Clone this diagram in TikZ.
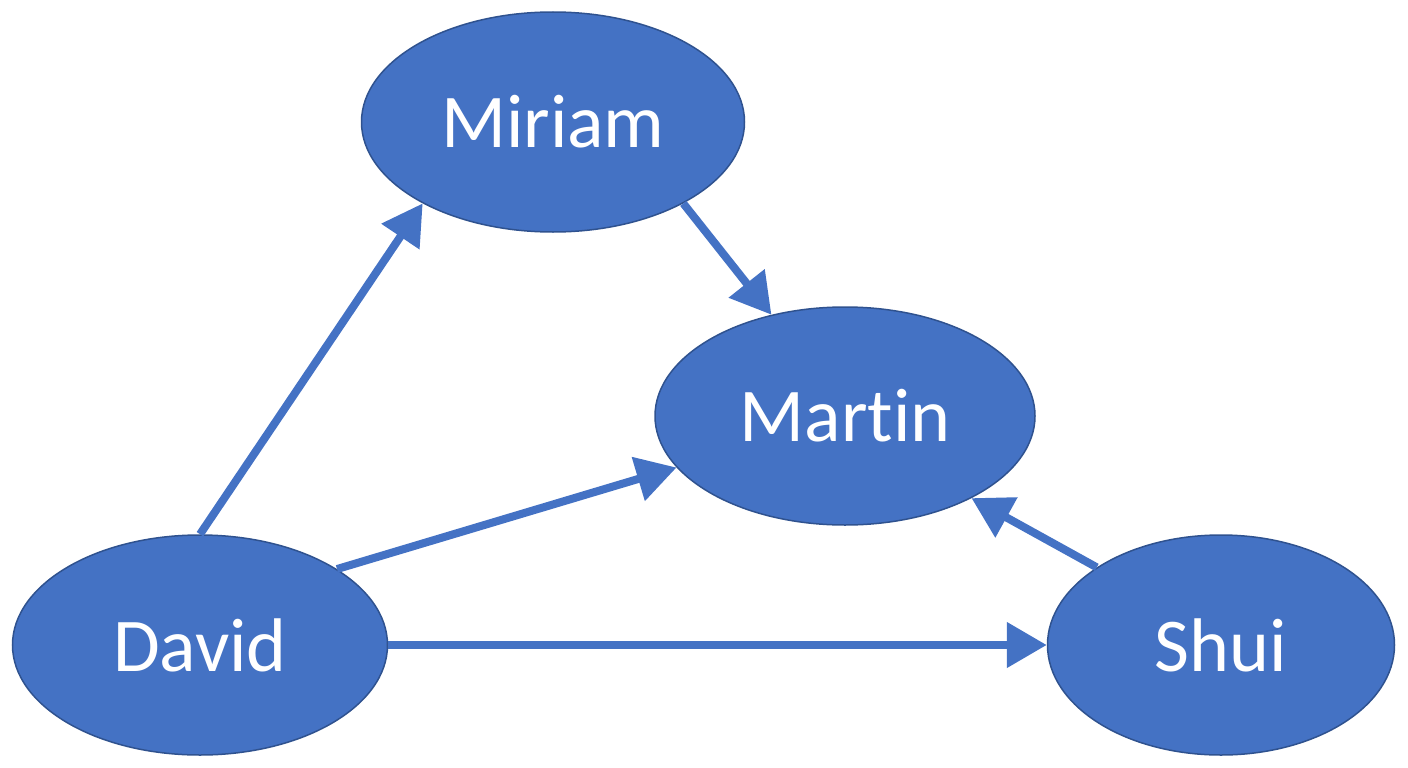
\documentclass[tikz,border=0pt]{standalone}
\usepackage{fontspec}
\setmainfont{Carlito}[Ligatures=NoCommon]
\usepackage{xcolor}
\usetikzlibrary{arrows.meta,positioning,shapes.geometric}
\definecolor{nodeblue}{HTML}{4472C4}
\definecolor{edgeblue}{HTML}{2F528F}

\begin{document}
\begin{tikzpicture}[
  x=1pt, y=-1pt,
  person/.style={ellipse, draw=edgeblue, line width=1.5pt, fill=nodeblue, inner sep=0pt, text=white, font=\fontsize{76}{80}\selectfont},
  arr/.style={-{Triangle[length=40pt, width=44pt]}, line width=8pt, draw=nodeblue, fill=nodeblue}
]
\useasboundingbox (0,0) rectangle (1408,768);
\node[person, minimum width=383pt, minimum height=220pt] (miriam) at (553,122) {Miriam};
\node[person, minimum width=380pt, minimum height=218pt] (martin) at (845,416) {Martin};
\node[person, minimum width=375pt, minimum height=220pt] (david) at (200,645) {David};
\node[person, minimum width=347pt, minimum height=220pt] (shui) at (1221,645) {Shui};
\draw[arr] (david.north) -- (miriam.212);
\draw[arr] (miriam.328) -- (martin.126);
\draw[arr] (david.29) -- (martin.197);
\draw[arr] (david.east) -- (shui.west);
\draw[arr] (shui.148) -- (martin.327);
\end{tikzpicture}
\end{document}
